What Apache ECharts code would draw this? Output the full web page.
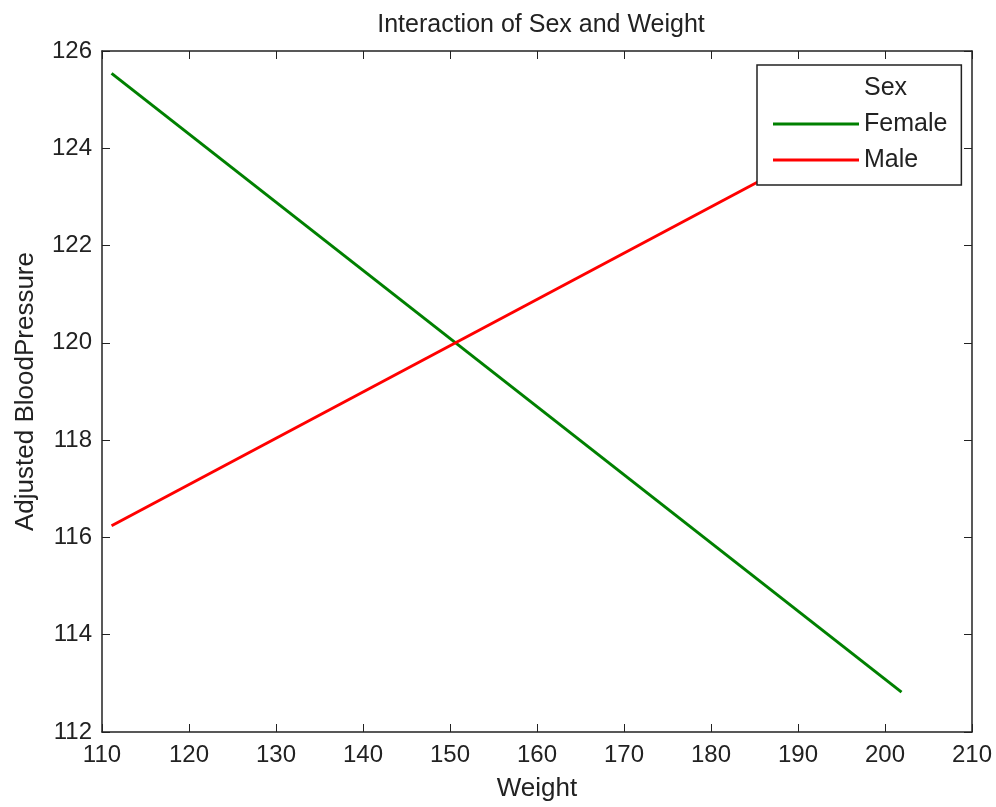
<!DOCTYPE html>
<html><head><meta charset="utf-8">
<script src="https://cdn.jsdelivr.net/npm/echarts@6/dist/echarts.min.js"></script>
<style>html,body{margin:0;padding:0;background:#fff}#c{width:996px;height:807px}</style>
</head><body><div id="c"></div>
<script>
const weights = [111.1, 201.9];
const femaleBP = [125.54, 112.82];
const maleBP = [116.24, 124.88];
const seriesNames = ['Female', 'Male'];
const legendTitle = 'Sex';
const xTicks = [110, 120, 130, 140, 150, 160, 170, 180, 190, 200, 210];
const yTicks = [112, 114, 116, 118, 120, 122, 124, 126];

const font = 'Liberation Sans, Arial, sans-serif';
const txtColor = '#222';
const chart = echarts.init(document.getElementById('c'));
const axisLine = {show: true, lineStyle: {color: '#222', width: 1.5}};
const tick = {show: true, inside: true, length: 8, lineStyle: {color: '#222', width: 1}};
chart.setOption({
  animation: false,
  backgroundColor: '#fff',
  title: {text: 'Interaction of Sex and Weight', left: 536, textAlign: 'center', top: 8,
    textStyle: {fontFamily: font, fontSize: 25, fontWeight: 'normal', color: txtColor}},
  grid: {left: 102, top: 51, right: 24, bottom: 72},
  legend: {
    orient: 'vertical', left: 757, top: 65,
    data: [{name: legendTitle, icon: 'none'}, seriesNames[0], seriesNames[1]],
    icon: 'rect', itemWidth: 86, itemHeight: 3, itemGap: 8,
    padding: [9, 14, 11, 16],
    backgroundColor: '#fff', borderColor: '#222', borderWidth: 1.5,
    selectedMode: false,
    textStyle: {fontFamily: font, fontSize: 25, color: txtColor, lineHeight: 28}
  },
  xAxis: [
    {type: 'value', min: xTicks[0], max: xTicks[xTicks.length-1], interval: 10,
     name: 'Weight', nameLocation: 'middle', nameGap: 44,
     nameTextStyle: {fontFamily: font, fontSize: 26, color: txtColor},
     axisLine, axisTick: tick, splitLine: {show: false},
     axisLabel: {fontFamily: font, fontSize: 24, color: txtColor, margin: 11}},
    {type: 'value', position: 'top', min: xTicks[0], max: xTicks[xTicks.length-1], interval: 10,
     axisLine, axisTick: tick, splitLine: {show: false}, axisLabel: {show: false}}
  ],
  yAxis: [
    {type: 'value', min: yTicks[0], max: yTicks[yTicks.length-1], interval: 2,
     name: 'Adjusted BloodPressure', nameLocation: 'middle', nameGap: 63,
     nameTextStyle: {fontFamily: font, fontSize: 26, color: txtColor},
     axisLine, axisTick: tick, splitLine: {show: false},
     axisLabel: {fontFamily: font, fontSize: 24, color: txtColor, margin: 10}},
    {type: 'value', position: 'right', min: yTicks[0], max: yTicks[yTicks.length-1], interval: 2,
     axisLine, axisTick: tick, splitLine: {show: false}, axisLabel: {show: false}}
  ],
  series: [
    {name: legendTitle, type: 'line', data: []},
    {name: seriesNames[0], type: 'line', showSymbol: false, color: '#008000',
     lineStyle: {width: 3, color: '#008000'},
     data: weights.map((w, i) => [w, femaleBP[i]])},
    {name: seriesNames[1], type: 'line', showSymbol: false, color: '#ff0000',
     lineStyle: {width: 3, color: '#ff0000'},
     data: weights.map((w, i) => [w, maleBP[i]])}
  ]
});
</script></body></html>
